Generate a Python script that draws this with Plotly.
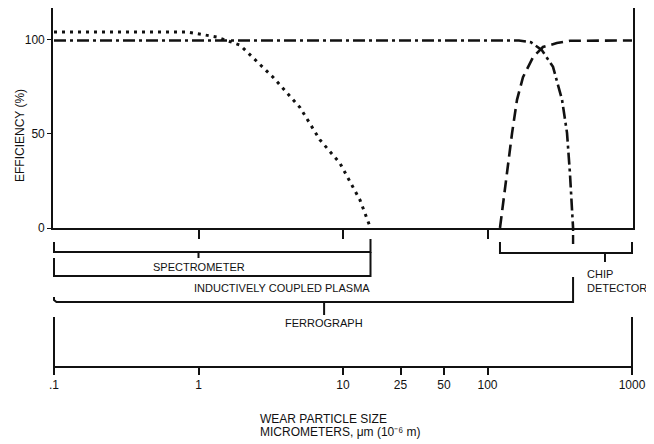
import math
import plotly.graph_objects as go

# ---------------- data ----------------
# Efficiency curves (particle size in micrometers, efficiency in %)
spec_size = [0.1, 0.5, 0.83, 1.34, 1.94, 3.28, 5.03, 6.93, 9.5, 13.1, 15.5]
spec_eff = [104, 104, 104, 101.3, 97, 80, 64, 46.7, 34.5, 14.9, 0]

ferro_size = [0.1, 165, 200, 237, 284, 328, 355, 372, 391]
ferro_eff = [99.5, 99.5, 98.5, 94.5, 85.5, 68, 50.5, 29, 0]

chip_size = [122, 136, 148, 160, 176, 207, 242, 302, 372, 1000]
chip_eff = [0, 29, 50.5, 68, 80, 90.7, 96, 98.1, 99.3, 99.5]

# Instrument ranges (micrometers)
instruments = ["SPECTROMETER", "INDUCTIVELY COUPLED PLASMA", "FERROGRAPH", "CHIP DETECTOR"]
range_lo = [0.1, 0.1, 0.1, 122]
range_hi = [15.5, 15.5, 391, 1000]
range_mid = [1.0, None, 7.4, 650]

x_ticks = [0.1, 1, 10, 25, 50, 100, 1000]
x_ticktext = [".1", "1", "10", "25", "50", "100", "1000"]
y_ticks = [0, 50, 100]

x_title = ["WEAR PARTICLE SIZE", "MICROMETERS, \u03bcm (10\u207b\u2076 m)"]

# ---------------- style ----------------
INK = "#111111"
FONT = "Liberation Sans, Arial, sans-serif"

fig = go.Figure()

def line(xs, ys, ax="x2", ay="y2", width=2, dash="solid"):
    fig.add_trace(go.Scatter(x=xs, y=ys, xaxis=ax, yaxis=ay, mode="lines",
                             line=dict(color=INK, width=width, dash=dash),
                             hoverinfo="skip", showlegend=False))

# curves in the upper panel
line(spec_size, spec_eff, "x", "y", width=3, dash="3px,5px")
line(ferro_size, ferro_eff, "x", "y", width=2.6, dash="12px,4px,3px,4px")
line(chip_size, chip_eff, "x", "y", width=2.6, dash="12px,6px")
# continuation of the dash-dot curve just below the axis
line([ferro_size[-1], ferro_size[-1]], [0, 19], dash="3px,4px,9px,4px", width=2.4)

# brackets in the lower panel (vertical positions are layout levels)
# spectrometer
line([range_lo[0], range_lo[0], range_hi[0], range_hi[0]], [14, 24, 24, 11])
line([range_mid[0], range_mid[0]], [24, 30])
# inductively coupled plasma
line([range_lo[1], range_lo[1], range_hi[1], range_hi[1]], [30, 48, 48, 24])
# ferrograph (hooked left end)
line([range_lo[2], range_lo[2], range_lo[2] * 1.04, range_hi[2], range_hi[2]],
     [69, 72, 74, 74, 49])
line([range_mid[2], range_mid[2]], [74, 87])
# chip detector
line([range_lo[3], range_lo[3], range_hi[3], range_hi[3]], [14, 25, 25, 14])
line([range_mid[3], range_mid[3]], [25, 34])
# scale bracket ends
line([x_ticks[0], x_ticks[0]], [89, 138])
line([x_ticks[-1], x_ticks[-1]], [89, 138])

lbl = dict(family=FONT, size=11, color=INK)
ttl = dict(family=FONT, size=12, color=INK)
annotations = [
    dict(x=math.log10(range_mid[0]), y=39, xref="x2", yref="y2", text=instruments[0],
         showarrow=False, font=lbl, xanchor="center", yanchor="middle"),
    dict(x=math.log10(range_hi[1]) + 0.01, y=60, xref="x2", yref="y2", text=instruments[1],
         showarrow=False, font=lbl, xanchor="right", yanchor="middle"),
    dict(x=math.log10(range_mid[2]), y=95, xref="x2", yref="y2", text=instruments[2],
         showarrow=False, font=lbl, xanchor="center", yanchor="middle"),
    dict(x=math.log10(470), y=53, xref="x2", yref="y2", text="CHIP<br>DETECTOR",
         showarrow=False, font=lbl, xanchor="left", yanchor="middle", align="left"),
    dict(x=-0.057, y=0.645, xref="paper", yref="paper", text="EFFICIENCY (%)",
         textangle=-90, showarrow=False, font=ttl,
         xanchor="center", yanchor="middle"),
    dict(x=0.353, y=-0.148, xref="paper", yref="paper", text=x_title[0],
         showarrow=False, font=ttl, xanchor="left", yanchor="middle"),
    dict(x=0.353, y=-0.184, xref="paper", yref="paper", text=x_title[1],
         showarrow=False, font=ttl, xanchor="left", yanchor="middle"),
]

# the page places the figure 8px in from the top-left corner
split = 138 / 358
xr = [-1.0069, 3.0069]

fig.update_layout(
    width=646, height=436,
    margin=dict(l=45, r=21, t=0, b=78),
    paper_bgcolor="white", plot_bgcolor="white",
    font=dict(family=FONT, size=12, color=INK),
    annotations=annotations,
    xaxis=dict(type="log", range=xr, anchor="y", domain=[0, 1],
               showline=True, linecolor=INK, linewidth=1.6,
               ticks="outside", ticklen=9, tickwidth=1.6, tickcolor=INK,
               tickvals=[1, 10, 100], showticklabels=False,
               showgrid=False, zeroline=False),
    yaxis=dict(range=[0, 116.7], domain=[split, 1], anchor="x",
               showline=True, mirror=True, linecolor=INK, linewidth=1.6,
               ticks="outside", ticklen=4, tickwidth=1.4, tickcolor=INK,
               tickvals=y_ticks, tickfont=dict(size=12, color=INK),
               showgrid=False, zeroline=False),
    xaxis2=dict(type="log", range=xr, anchor="y2", domain=[0, 1], matches="x",
                showline=True, linecolor=INK, linewidth=1.6,
                ticks="outside", ticklen=7, tickwidth=1.6, tickcolor=INK,
                tickvals=x_ticks, ticktext=x_ticktext,
                tickfont=dict(size=12, color=INK),
                showgrid=False, zeroline=False),
    yaxis2=dict(range=[138, 0], domain=[0, split], anchor="x2", visible=False,
                showgrid=False, zeroline=False),
)

fig.write_html("out.html")
